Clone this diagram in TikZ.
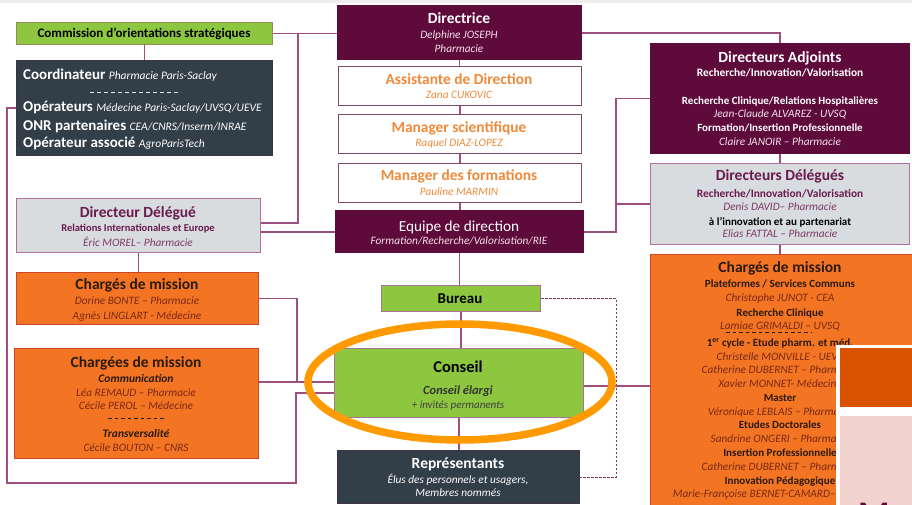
\documentclass[tikz,border=0pt]{standalone}
\usepackage{fontspec}
\setmainfont{Carlito}
\usetikzlibrary{calc}
\newcommand\fsz[1]{\fontsize{#1}{#1}\selectfont}
\definecolor{maroon}{HTML}{5E0A3B}
\definecolor{lnc}{HTML}{9E4F80}
\definecolor{grn}{HTML}{8DC63F}
\definecolor{grnb}{HTML}{9A8A55}
\definecolor{slate}{HTML}{323E48}
\definecolor{lgrey}{HTML}{D8DCDF}
\definecolor{org}{HTML}{F37422}
\definecolor{orgb}{HTML}{C9482A}
\definecolor{orgtxt}{HTML}{F08A3A}
\definecolor{purp}{HTML}{6A1B4D}
\definecolor{purpl}{HTML}{7E3A64}
\definecolor{brn}{HTML}{7A2A16}
\definecolor{dk}{HTML}{2A1A10}
\definecolor{ell}{HTML}{FF9A00}
\definecolor{dorg}{HTML}{D85200}
\definecolor{pinkb}{HTML}{F1D2CF}
\definecolor{bdr}{HTML}{B0709A}
\definecolor{lpink}{HTML}{F3E2EA}
\definecolor{topg}{HTML}{EEEEEE}
\begin{document}
\begin{tikzpicture}[x=1pt,y=-1pt,
  box/.style={draw=bdr, line width=1pt, anchor=north west, inner sep=0pt},
  mbox/.style={box, fill=maroon, draw=maroon},
  wbox/.style={box, fill=white, draw=maroon!75, minimum width=243pt, minimum height=39pt},
  gbox/.style={box, fill=lgrey, draw=bdr},
  obox/.style={box, fill=org, draw=orgb, line width=0.8pt},
  grbox/.style={box, fill=grn, draw=grnb},
  grbox2/.style={box, fill=grn, draw=bdr!80!gray},
  sbox/.style={box, fill=slate, draw=slate!80!maroon},
  conn/.style={draw=lnc, line width=1.3pt},
  dconn/.style={draw=maroon!80, line width=1pt, dash pattern=on 2.5pt off 1.5pt},
  t/.style={anchor=base, inner sep=0pt},
  ttl/.style={t, font=\bfseries\fsz{15.5}},
  sub/.style={t, font=\bfseries\fsz{11}},
  nm/.style={t, font=\itshape\fsz{11.3}},
]
\useasboundingbox (0,0) rectangle (912,505);
\clip (0,0) rectangle (912,505);
\fill[topg] (0,0) rectangle (912,3);

% ---------- boxes, left ----------
\node[grbox, minimum width=256pt, minimum height=22pt] (comm) at (16,22) {};
\node[sbox, minimum width=256pt, minimum height=95pt] (coord) at (16,60) {};
\node[gbox, minimum width=244pt, minimum height=54pt] (dd) at (16,198) {};
\node[obox, minimum width=242pt, minimum height=52pt] (cm1) at (16,272) {};
\node[obox, minimum width=244pt, minimum height=110pt] (cm2) at (14,348) {};
% ---------- boxes, centre ----------
\node[mbox, minimum width=244pt, minimum height=54pt] (dir) at (337,5) {};
\node[wbox] (asst) at (338,66) {};
\node[wbox] (msci) at (338,114) {};
\node[wbox] (mform) at (338,163) {};
\node[mbox, minimum width=248pt, minimum height=42pt] (eq) at (335,210) {};
\node[grbox2, minimum width=159pt, minimum height=26pt] (bur) at (381,285) {};
\node[grbox2, minimum width=249pt, minimum height=69pt] (cons) at (334,348) {};
\node[sbox, minimum width=242pt, minimum height=53pt] (rep) at (337,450) {};
% ---------- boxes, right ----------
\node[mbox, minimum width=259pt, minimum height=110pt] (da) at (650,43) {};
\node[gbox, minimum width=259pt, minimum height=81pt] (dlg) at (650,163) {};
\node[obox, minimum width=270pt, minimum height=262pt] (cm3) at (650,254) {};

% ---------- texts, left ----------
\node[t, font=\bfseries\fsz{13}, text=black] (tcomm) at (144,37.5) {Commission d’orientations\ stratégiques};
\node[t, anchor=base west, text=white] (tc1) at (23,80) {\fsz{15}\bfseries Coordinateur \fsz{11.5}\mdseries\itshape Pharmacie Paris-Saclay};
\draw[white!85!gray, line width=0.9pt, dash pattern=on 4pt off 3pt] (90,92) -- (181,92);
\node[t, anchor=base west, text=white] (tc2) at (23,112) {\fsz{15}\bfseries Opérateurs \fsz{11.5}\mdseries\itshape Médecine Paris-Saclay/UVSQ/UEVE};
\node[t, anchor=base west, text=white] (tc3) at (23,131) {\fsz{15}\bfseries ONR partenaires \fsz{11.5}\mdseries\itshape CEA/CNRS/Inserm/INRAE};
\node[t, anchor=base west, text=white] (tc4) at (23,148) {\fsz{15}\bfseries Opérateur associé \fsz{11.5}\mdseries\itshape AgroParisTech};

\node[ttl, text=purp] (tdd1) at (138,217.5) {Directeur Délégué};
\node[t, font=\bfseries\fsz{10.5}, text=purp] (tdd2) at (138,231) {Relations Internationales et Europe};
\node[nm, text=purpl] (tdd3) at (138,246) {Éric MOREL– Pharmacie};

\node[ttl, text=dk] (tm11) at (137,289.5) {Chargés de mission};
\node[nm, text=brn] (tm12) at (137,304) {Dorine BONTE – Pharmacie};
\node[nm, text=brn] (tm13) at (137,319) {Agnès LINGLART - Médecine};

\node[ttl, text=dk] (tm21) at (136,367.5) {Chargées de mission};
\node[t, font=\bfseries\itshape\fsz{11.5}, text=dk] (tm22) at (136,382) {Communication};
\node[nm, text=brn] (tm23) at (136,396) {Léa REMAUD – Pharmacie};
\node[nm, text=brn] (tm24) at (136,409) {Cécile PEROL – Médecine};
\draw[dk, line width=0.9pt, dash pattern=on 3.5pt off 3pt] (108,418) -- (166,418);
\node[t, font=\bfseries\itshape\fsz{11.5}, text=dk] (tm25) at (136,437) {Transversalité};
\node[nm, text=brn] (tm26) at (136,451) {Cécile BOUTON – CNRS};

% ---------- texts, centre ----------
\node[ttl, text=white] (tdir1) at (459,23.5) {Directrice};
\node[nm, text=lpink] (tdir2) at (459,38.5) {Delphine JOSEPH};
\node[nm, text=lpink] (tdir3) at (459,52.5) {Pharmacie};
\node[t, font=\bfseries\fsz{15.4}, text=orgtxt] (tas1) at (459,84.5) {Assistante de Direction};
\node[nm, text=orgtxt] (tas2) at (459,99) {Zana CUKOVIC};
\node[t, font=\bfseries\fsz{15.4}, text=orgtxt] (tms1) at (459,132.5) {Manager scientifique};
\node[nm, text=orgtxt] (tms2) at (459,146.5) {Raquel DIAZ-LOPEZ};
\node[t, font=\bfseries\fsz{15.4}, text=orgtxt] (tmf1) at (459,180.5) {Manager des formations};
\node[nm, text=orgtxt] (tmf2) at (459,195.5) {Pauline MARMIN};
\node[t, font=\fsz{15.3}, text=white] (teq1) at (459,231.5) {Equipe de direction};
\node[nm, text=lpink] (teq2) at (459,244.5) {Formation/Recherche/Valorisation/RIE};
\node[t, font=\bfseries\fsz{15}, text=black] (tbur) at (460,303) {Bureau};
\node[t, font=\bfseries\fsz{16.5}, text=black] (tco1) at (458,372.5) {Conseil};
\node[t, font=\bfseries\itshape\fsz{12.5}, text=black!80] (tco2) at (458,394) {Conseil élargi};
\node[t, font=\itshape\fsz{11}, text=black!75] (tco3) at (458,408.5) {+ invités permanents};
\node[t, font=\bfseries\fsz{15.5}, text=white] (trp1) at (458,468) {Représentants};
\node[nm, text=white] (trp2) at (458,483.5) {Élus des personnels et usagers,};
\node[nm, text=white] (trp3) at (458,496.5) {Membres nommés};

% ---------- texts, right ----------
\node[t, font=\bfseries\fsz{15.5}, text=white] (tda1) at (780,62.5) {Directeurs Adjoints};
\node[t, font=\bfseries\fsz{11.4}, text=white] (tda2) at (780,77) {Recherche/Innovation/Valorisation};
\node[sub, text=white] (tda3) at (780,105) {Recherche Clinique/Relations Hospitalières};
\node[nm, text=lpink] (tda4) at (780,118) {Jean-Claude ALVAREZ - UVSQ};
\node[sub, text=white] (tda5) at (780,132) {Formation/Insertion Professionnelle};
\node[nm, text=lpink] (tda6) at (780,146) {Claire JANOIR – Pharmacie};

\node[t, font=\bfseries\fsz{15.5}, text=purp] (tdl1) at (780,180.5) {Directeurs Délégués};
\node[t, font=\bfseries\fsz{11.4}, text=purp] (tdl2) at (780,197) {Recherche/Innovation/Valorisation};
\node[nm, text=purpl] (tdl3) at (780,211) {Denis DAVID– Pharmacie};
\node[sub, text=black] (tdl4) at (780,225) {à l’innovation et au partenariat};
\node[nm, text=purpl] (tdl5) at (780,237) {Elias FATTAL – Pharmacie};

\node[ttl, text=dk] (tr1) at (780,272.5) {Chargés de mission};
\node[sub, text=dk] (tr2) at (780,287) {Plateformes / Services Communs};
\node[nm, text=brn] (tr3) at (780,301) {Christophe JUNOT - CEA};
\node[sub, text=dk] (tr4) at (780,316) {Recherche Clinique};
\node[nm, text=brn] (tr5) at (780,329) {Lamiae GRIMALDI – UVSQ};
\draw[dk, line width=0.9pt, dash pattern=on 3.5pt off 3pt] (726,332.5) -- (811,332.5);
\node[sub, text=dk] (tr6) at (780,346) {1\textsuperscript{er} cycle - Etude pharm. et méd.};
\node[nm, text=brn] (tr7) at (780,360) {Christelle MONVILLE - UEVE};
\node[nm, text=brn] (tr8) at (780,373) {Catherine DUBERNET – Pharmacie};
\node[nm, text=brn] (tr9) at (780,387) {Xavier MONNET- Médecine};
\node[sub, text=dk] (tr10) at (780,401) {Master};
\node[nm, text=brn] (tr11) at (780,415) {Véronique LEBLAIS – Pharmacie};
\node[sub, text=dk] (tr12) at (780,428) {Etudes Doctorales};
\node[nm, text=brn] (tr13) at (780,442) {Sandrine ONGERI – Pharmacie};
\node[sub, text=dk] (tr14) at (780,456) {Insertion Professionnelle};
\node[nm, text=brn] (tr15) at (780,470) {Catherine DUBERNET – Pharmacie};
\node[sub, text=dk] (tr16) at (780,484) {Innovation Pédagogique};
\node[nm, text=brn] (tr17) at (780,497) {Marie-Françoise BERNET-CAMARD– Pharmacie};

% ---------- connectors ----------
\coordinate (j1) at (298,33);
\coordinate (j2) at (616,204);
\coordinate (j3) at (616,477);
\draw[conn] (comm.east) -- (dir.west |- comm.east);
\draw[conn] (j1) |- (dd.east |- 0,223);
\draw[conn] (eq.west |- 0,232) -- (dd.east |- 0,232);
\draw[conn] (comm.south) -- (coord.north);
\draw[conn] (coord.west) -| (7,483) -| (296,393) -- (cons.west |- 0,393);
\draw[conn] (dd.south) -- (dd.south |- cm1.north);
\draw[conn] (cm1.east) -| (297,382) -- (cons.west |- 0,382);
\draw[conn] (cm2.east |- 0,382) -- (297,382);
\draw[conn] (dir.south) -- (dir.south |- asst.north);
\draw[conn] (asst.south) -- (asst.south |- msci.north);
\draw[conn] (msci.south) -- (msci.south |- mform.north);
\draw[conn] (mform.south) -- (mform.south |- eq.north);
\draw[conn] (eq.south) -- (eq.south |- bur.north);
\draw[conn] (bur.south) -- (bur.south |- cons.north);
\draw[conn] (cons.south) -- (cons.south |- rep.north);
\draw[conn] (dir.east |- 0,33) -| (da.north);
\draw[conn] (da.south) -- (da.south |- dlg.north);
\draw[conn] (dlg.south) -- (dlg.south |- cm3.north);
\draw[conn] (da.west) -| (j2);
\draw[conn] (eq.east |- 0,232) -| (j2) -- (dlg.west |- j2);
\draw[dconn] (bur.east) -| (j3) -- (rep.east |- j3);
\draw[conn] (cons.east |- 0,386) -- (cm3.west |- 0,386);

% ---------- highlight ----------
\draw[ell, line width=7.5pt] (460,382) ellipse [x radius=152pt, y radius=58pt];

% ---------- overlay, bottom right ----------
\fill[white] (836,345) rectangle (912,505);
\fill[dorg] (840,348) rectangle (912,407);
\fill[pinkb] (840,416) rectangle (912,505);
\node[t, anchor=base west, font=\bfseries\fsz{36}, text=maroon] (bigm) at (858,526) {M};
\end{tikzpicture}
\end{document}
